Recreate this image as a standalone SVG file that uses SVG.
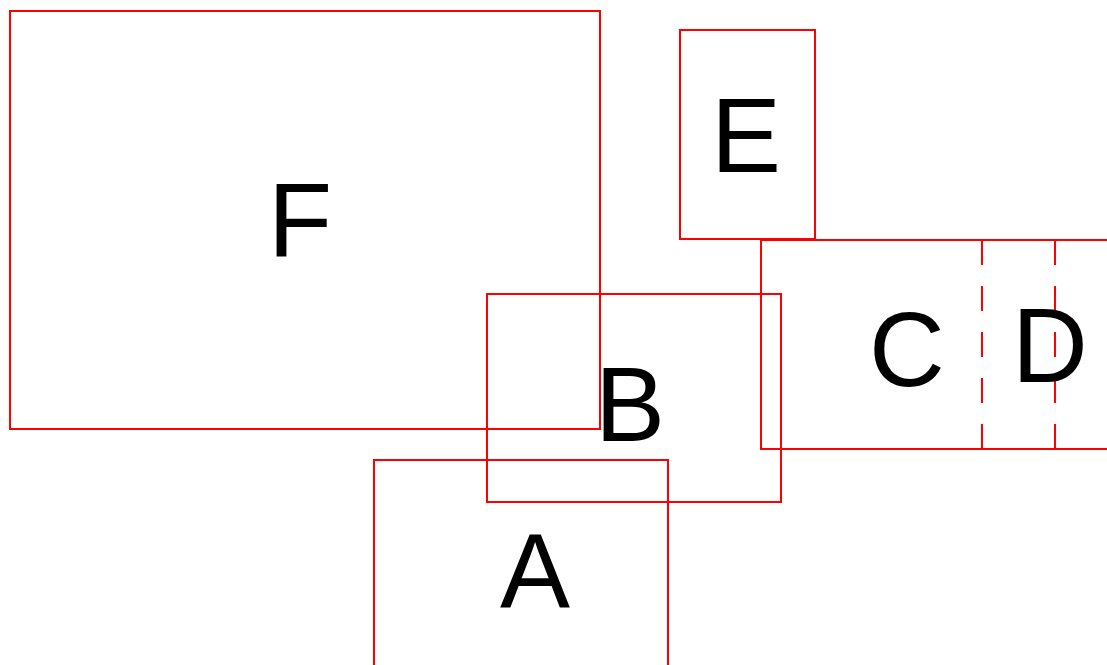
<svg xmlns="http://www.w3.org/2000/svg" width="1107" height="665" viewBox="0 0 1107 665">
<style>
.box{fill:none;stroke:#ff0000;stroke-width:2}
.dash{fill:none;stroke:#ff0000;stroke-width:2;stroke-dasharray:25 21}
.lbl{font-family:"Liberation Sans",Arial,sans-serif;font-size:105px;fill:#000;text-anchor:middle}
</style>
<rect width="1107" height="665" fill="#fff"/>
<g id="F"><rect class="box" x="10" y="11" width="590" height="418"/><text class="lbl" x="300" y="257">F</text></g>
<g id="E"><rect class="box" x="680" y="30" width="135" height="209"/><text class="lbl" x="746" y="172">E</text></g>
<g id="C"><rect class="box" x="761" y="240" width="360" height="209"/><text class="lbl" x="907" y="386">C</text></g>
<g id="D"><line class="dash" x1="982" y1="240" x2="982" y2="449"/><line class="dash" x1="1055" y1="240" x2="1055" y2="449"/><text class="lbl" x="1050" y="382">D</text></g>
<g id="B"><rect class="box" x="487" y="294" width="294" height="208"/><text class="lbl" x="630" y="441">B</text></g>
<g id="A"><rect class="box" x="374" y="460" width="294" height="220"/><text class="lbl" x="535" y="607">A</text></g>
<g id="connectors"></g>
</svg>
